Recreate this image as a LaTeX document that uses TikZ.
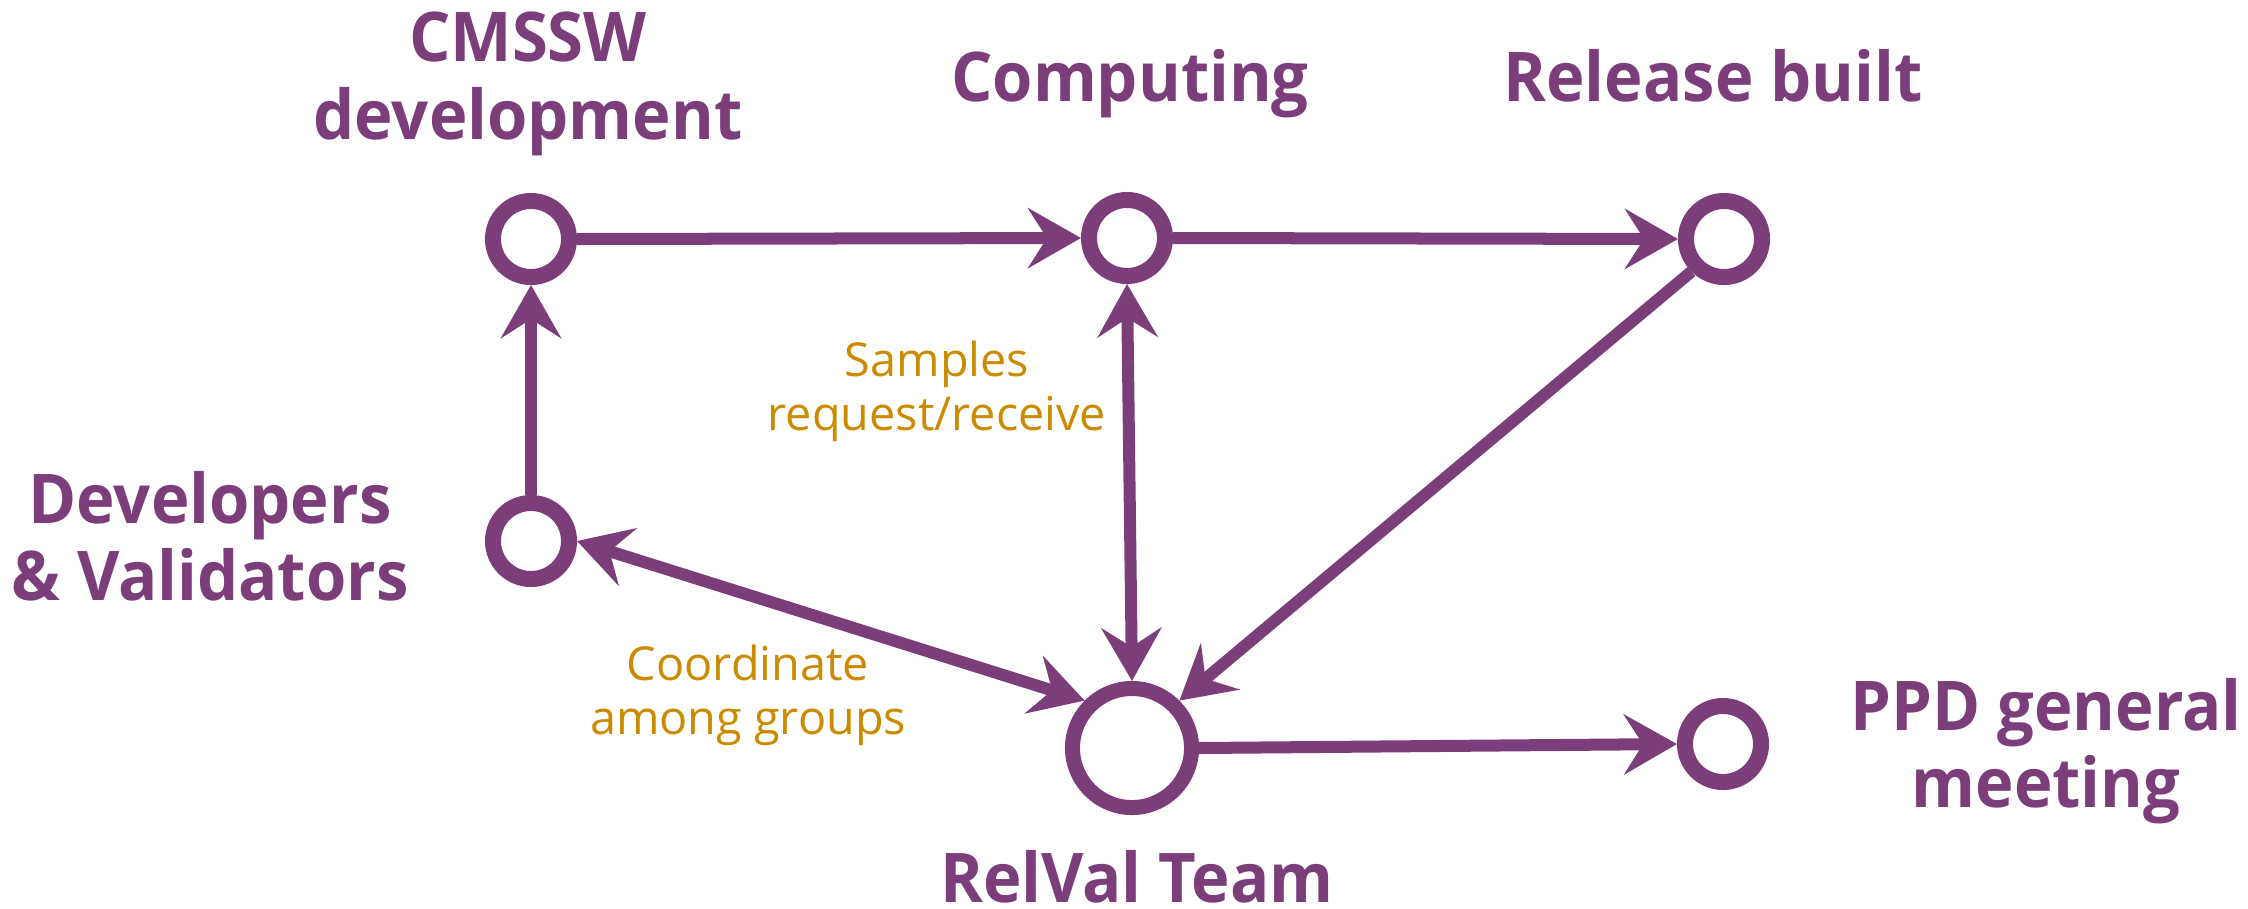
\documentclass[tikz,border=0pt]{standalone}
\usepackage{fontspec}
\setmainfont{Open Sans}[BoldFeatures={FakeStretch=0.95}]
\usetikzlibrary{arrows.meta}
\definecolor{relpurple}{RGB}{124,62,123}
\definecolor{relorange}{RGB}{204,138,0}
\begin{document}
\begin{tikzpicture}[x=0.01cm,y=-0.01cm,
  hub/.style={circle,draw=relpurple,line width=0.16cm,minimum size=0.76cm,inner sep=0pt,outer sep=0.08cm,fill=white},
  bighub/.style={hub,line width=0.15cm,minimum size=1.19cm,outer sep=0.075cm},
  conn/.style={draw=relpurple,line width=0.12cm},
  ttl/.style={text=relpurple,font=\bfseries\fontsize{19.5}{21.9}\selectfont,align=center,anchor=base},
  note/.style={text=relorange,font=\fontsize{13.3}{15.1}\selectfont,align=center,anchor=base},
  tip/.tip={Stealth[length=0.53cm,width=0.6cm,inset=0.19cm]}]
\useasboundingbox (0,0) rectangle (2248,908);
% nodes
\node[hub] (cmssw) at (531,239) {};
\node[hub] (comp) at (1127,238) {};
\node[hub] (rel) at (1724,239) {};
\node[hub] (dev) at (531,541) {};
\node[bighub] (relval) at (1132,748) {};
\node[hub] (ppd) at (1723,744) {};
% labels (base anchor = baseline of the last line)
\node[ttl] (lcmssw) at (528,139) {CMSSW\\development};
\node[ttl] (lcomp) at (1130,101) {Computing};
\node[ttl] (lrel) at (1713,101) {Release built};
\node[ttl] (ldev) at (210,600) {Developers\\\& Validators};
\node[ttl] (lppd) at (2046,807) {PPD general\\meeting};
\node[ttl] (lrelval) at (1137,902) {RelVal Team};
\node[note] (lsamp) at (937,430) {Samples\\request/receive};
\node[note] (lcoord) at (748,734) {Coordinate\\among groups};
% connectors
\draw[conn,-tip] (cmssw.east) -- (comp.west);
\draw[conn,-tip] (comp.east) -- (rel.west);
\draw[conn,-tip] (dev.north) -- (cmssw.south);
\draw[conn,tip-tip] (comp.south) -- (relval.north);
\draw[conn,tip-tip] (dev.east) -- (relval.north west);
\draw[conn,-tip] (rel.south west) -- (relval.north east);
\draw[conn,-tip] (relval.east) -- (ppd.west);
\end{tikzpicture}
\end{document}
